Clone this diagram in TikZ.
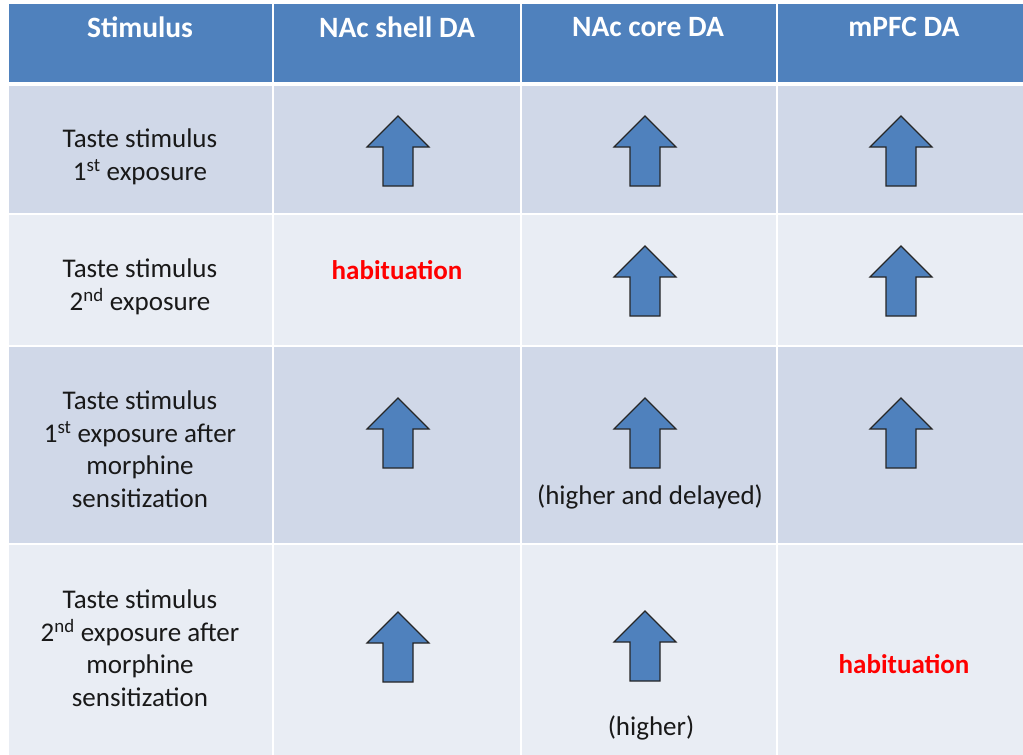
\documentclass[tikz,border=0pt]{standalone}
\usepackage{fontspec}
\setmainfont{Carlito}
\definecolor{hdr}{HTML}{4F81BD}
\definecolor{rowA}{HTML}{D0D8E8}
\definecolor{rowB}{HTML}{E9EDF4}
\definecolor{arrowfill}{HTML}{4F81BD}
\tikzset{
  hdrtext/.style={text=white,font=\fontsize{29.5}{32}\selectfont\bfseries,anchor=center,inner sep=0pt},
  celltext/.style={text=black!90,font=\fontsize{27}{32.5}\selectfont,align=center,anchor=center,inner sep=0pt},
  habtext/.style={text=red,font=\fontsize{27}{30}\selectfont\bfseries,anchor=center,inner sep=0pt},
  uparrow/.pic={\draw[fill=arrowfill,draw=black!85,line width=1.2pt,line join=miter]
    (0,-35) -- (31,-4) -- (15,-4) -- (15,35) -- (-15,35) -- (-15,-4) -- (-31,-4) -- cycle;}
}
\begin{document}
\begin{tikzpicture}[x=1pt,y=-1pt]
\useasboundingbox (0,0) rectangle (1023,755);
\fill[white] (0,0) rectangle (1023,755);
% header
\fill[hdr] (9,4) rectangle (1023,82);
% rows
\fill[rowA] (9,86) rectangle (1023,214);
\fill[rowB] (9,214) rectangle (1023,346);
\fill[rowA] (9,346) rectangle (1023,544);
\fill[rowB] (9,544) rectangle (1023,755);
% white grid lines
\foreach \yy in {214,346,544} \draw[white,line width=2pt] (9,\yy) -- (1023,\yy);
\foreach \xx in {272.5,520.5,776.5} \draw[white,line width=2pt] (\xx,4) -- (\xx,755);
% header texts
\node[hdrtext] (h1) at (140,27) {Stimulus};
\node[hdrtext] (h2) at (397,27) {NAc shell DA};
\node[hdrtext] (h3) at (648,27) {NAc core DA};
\node[hdrtext] (h4) at (904,27) {mPFC DA};
% stimulus column
\node[celltext] (s1) at (140,157) {Taste stimulus\\1\textsuperscript{st} exposure};
\node[celltext] (s2) at (140,287) {Taste stimulus\\2\textsuperscript{nd} exposure};
\node[celltext] (s3) at (140,449) {Taste stimulus\\1\textsuperscript{st} exposure after\\morphine\\sensitization};
\node[celltext] (s4) at (140,648) {Taste stimulus\\2\textsuperscript{nd} exposure after\\morphine\\sensitization};
% row 1
\pic at (398,151) {uparrow};
\pic at (645,151) {uparrow};
\pic at (901,151) {uparrow};
% row 2
\node[habtext] (hab1) at (397,270) {habituation};
\pic at (645,281) {uparrow};
\pic at (901,281) {uparrow};
% row 3
\pic at (398,433) {uparrow};
\pic at (645,433) {uparrow};
\pic at (901,433) {uparrow};
\node[celltext] (r3c3) at (650,497) {(higher and delayed)};
% row 4
\pic at (398,647) {uparrow};
\pic at (645,646) {uparrow};
\node[celltext] (r4c3) at (651,728) {(higher)};
\node[habtext] (hab2) at (904,664) {habituation};
\end{tikzpicture}
\end{document}
